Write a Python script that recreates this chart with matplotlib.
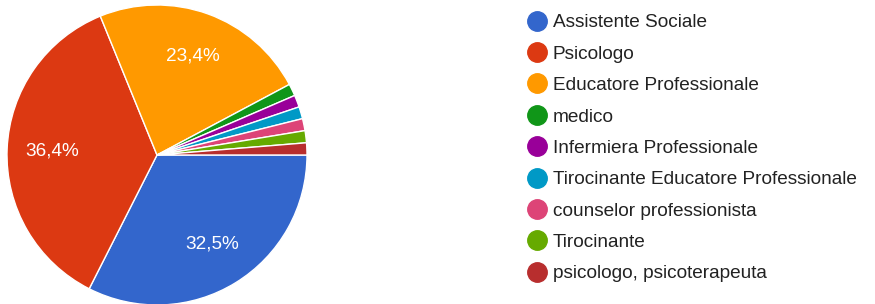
import numpy as np
import matplotlib.pyplot as plt

plt.rcParams['font.family'] = ['Liberation Sans', 'DejaVu Sans']

# Responses per category (77 total)
labels = ["Assistente Sociale", "Psicologo", "Educatore Professionale", "medico",
          "Infermiera Professionale", "Tirocinante Educatore Professionale",
          "counselor professionista", "Tirocinante", "psicologo, psicoterapeuta"]
counts = [25, 28, 18, 1, 1, 1, 1, 1, 1]
colors = ["#3366CC", "#DC3912", "#FF9900", "#109618", "#990099",
          "#0099C6", "#DD4477", "#66AA00", "#B82E2E"]

W, H = 875, 304
fig = plt.figure(figsize=(W / 100, H / 100), dpi=100)

# pie axes: centre (157, 155) px, radius 150 px
cx, cy, r = 157, 155, 150
ax = fig.add_axes([(cx - r) / W, (H - cy - r) / H, 2 * r / W, 2 * r / H])


def pct(p):
    return f"{p:.1f}%".replace('.', ',') if p > 5 else ''


wedges, texts, autotexts = ax.pie(counts, colors=colors, startangle=0, counterclock=False,
                                  autopct=pct, pctdistance=0.70,
                                  wedgeprops=dict(edgecolor='white', linewidth=1),
                                  textprops=dict(color='white', fontsize=13.7))
ax.set_xlim(-1, 1)
ax.set_ylim(-1, 1)
ax.set_aspect('auto')

# legend drawn in pixel coordinates
lg = fig.add_axes([0, 0, 1, 1])
lg.set_xlim(0, W)
lg.set_ylim(H, 0)
lg.axis('off')
for i, (lab, c) in enumerate(zip(labels, colors)):
    y = 20.5 + 31.4 * i
    lg.plot([537], [y], marker='o', markersize=14, color=c, linestyle='')
    lg.text(553, y + 6.8, lab, fontsize=13.7, color='#222222', va='baseline', ha='left')

fig.savefig("out.png", dpi=100)
